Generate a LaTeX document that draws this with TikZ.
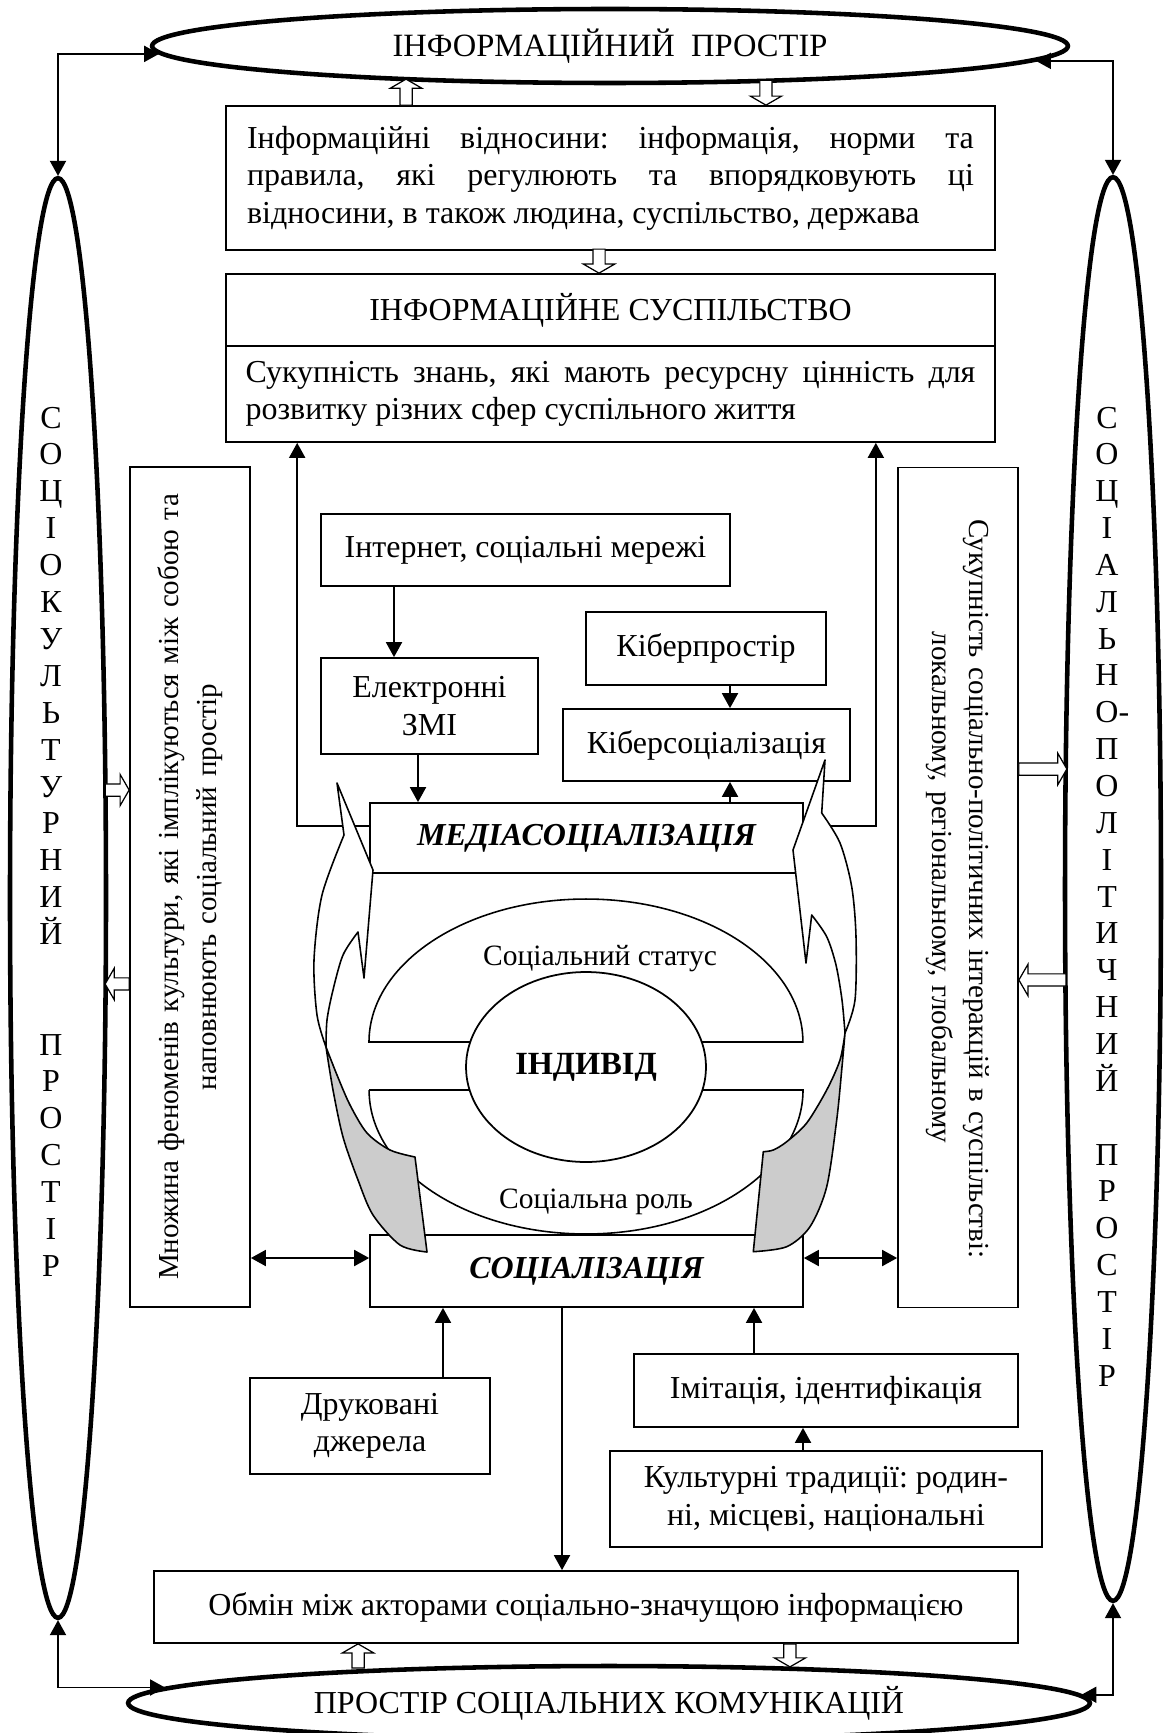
\documentclass[tikz,border=0pt]{standalone}
\usepackage{fontspec}
\setmainfont{Liberation Serif}
\usetikzlibrary{arrows.meta,shapes.geometric,shapes.arrows}
\newcommand\diagfont{\fontsize{18.2}{21.3}\selectfont\frenchspacing}

\begin{document}
\begin{tikzpicture}[
    x=0.02cm, y=-0.02cm,
    >/.tip={Triangle[length=0.3cm,width=0.32cm]},
    every node/.style={font=\diagfont},
    box/.style={draw, line width=1pt, fill=white, inner sep=0pt, align=center},
    space/.style={draw, ellipse, line width=2.6pt, inner sep=0pt},
    hollow/.style={draw, single arrow, fill=white, line width=0.7pt, inner xsep=0pt, inner ysep=0.11cm,
      outer sep=0pt, single arrow head extend=0.19cm, single arrow tip angle=120},
    link/.style={line width=1.1pt},
    callout/.style={draw, line width=0.9pt, fill=white, line join=round},
    letter/.style={anchor=base, inner sep=0pt}
  ]
    \useasboundingbox (0,0) rectangle (1163,1733);

    % The four spaces
    \node[space, minimum width=18.32cm, minimum height=1.48cm, font=\fontsize{18.5}{21.3}\selectfont] (infsp) at (610,46) {ІНФОРМАЦІЙНИЙ\ \ ПРОСТІР};
    \node[space, minimum width=1.92cm, minimum height=28.8cm] (socult) at (58,898) {};
    \node[space, minimum width=1.92cm, minimum height=28.48cm] (sopol) at (1113,889) {};
    \node[space, minimum width=19.24cm, minimum height=1.48cm] (comm) at (609,1703) {ПРОСТІР СОЦІАЛЬНИХ КОМУНІКАЦІЙ};

    \foreach \ch [count=\i from 0] in {С,О,Ц,І,О,К,У,Л,Ь,Т,У,Р,Н,И,Й}
      \node[letter] (lt\i) at (51,428+36.9*\i) {\ch};
    \foreach \ch [count=\i from 0] in {П,Р,О,С,Т,І,Р}
      \node[letter] (lb\i) at (51,1055+36.9*\i) {\ch};
    \foreach \ch [count=\i from 0] in {С,О,Ц,І,А,Л,Ь,Н,{О\rlap{-}},П,О,Л,І,Т,И,Ч,Н,И,Й}
      \node[letter] (rt\i) at (1107,428+36.85*\i) {\ch};
    \foreach \ch [count=\i from 0] in {П,Р,О,С,Т,І,Р}
      \node[letter] (rb\i) at (1107,1165+36.85*\i) {\ch};

    \draw[link,<->] (socult.north) |- (infsp.181.5);
    \draw[link,<->] (sopol.north) |- (infsp.358.5);
    \draw[link,<->] (socult.south) |- (comm.178.35);
    \draw[link,<->] (sopol.south) |- (comm.1.65);

    % The boxes
    \node[box, text width=14.54cm, align=justify, inner xsep=0.42cm, minimum height=2.88cm] (rel) at (610.5,178)
      {Інформаційні відносини: інформація, норми та\linebreak правила, які регулюють та впорядковують ці\linebreak відносини, в також людина, суспільство, держава};
    \node[box, minimum width=15.38cm, minimum height=1.44cm] (infsoc) at (610.5,310) {ІНФОРМАЦІЙНЕ СУСПІЛЬСТВО};
    \node[box, text width=14.6cm, align=justify, inner xsep=0.39cm, minimum height=1.92cm] (infdesc) at (610.5,394)
      {Сукупність знань, які мають ресурсну цінність для\linebreak розвитку різних сфер суспільного життя};
    \node[box, rotate=90, text width=16.4cm, inner xsep=0.2cm, minimum height=2.4cm, font=\fontsize{16.5}{21.3}\selectfont] (cult) at (190,887)
      {Множина феноменів культури, які імплікуються між собою та\\ наповнюють соціальний простір};
    \node[box, rotate=-90, text width=16.4cm, inner xsep=0.2cm, minimum height=2.4cm, font=\fontsize{16.5}{21.3}\selectfont] (polit) at (958,887.5)
      {\makebox[14.74cm][s]{Сукупність соціально-політичних інтеракцій в суспільстві:}\\ локальному, регіональному, глобальному};
    \node[box, minimum width=8.18cm, minimum height=1.44cm] (inet) at (525.5,550) {Інтернет, соціальні мережі};
    \node[box, minimum width=4.34cm, minimum height=1.92cm] (emedia) at (429.5,706) {Електронні\\ЗМІ};
    \node[box, minimum width=4.8cm, minimum height=1.46cm] (cyber) at (706,648.5) {Кіберпростір};
    \node[box, minimum width=5.74cm, minimum height=1.44cm] (cybsoc) at (706.5,745) {Кіберсоціалізація};
    \node[box, minimum width=8.66cm, minimum height=1.4cm, font=\diagfont\bfseries\itshape] (media) at (586.5,838) {МЕДІАСОЦІАЛІЗАЦІЯ};
    \node[box, minimum width=8.66cm, minimum height=1.44cm, font=\diagfont\bfseries\itshape] (soc) at (586.5,1271) {СОЦІАЛІЗАЦІЯ};
    \node[box, minimum width=4.8cm, minimum height=1.92cm] (print) at (370,1426) {Друковані\\джерела};
    \node[box, minimum width=7.68cm, minimum height=1.46cm] (imit) at (826,1390.5) {Імітація, ідентифікація};
    \node[box, minimum width=8.64cm, minimum height=1.92cm] (trad) at (826,1499) {Культурні традиції: родин-\\ні, місцеві, національні};
    \node[box, minimum width=17.28cm, minimum height=1.44cm] (exch) at (586,1607) {Обмін між акторами соціально-значущою інформацією};

    % Hollow arrows
    \node[hollow, rotate=90, anchor=tail, minimum height=0.52cm] (up1) at ([xshift=-4.09cm]rel.north) {};
    \node[hollow, rotate=-90, anchor=tip, minimum height=0.5cm] (dn1) at ([xshift=3.11cm]rel.north) {};
    \node[hollow, rotate=-90, anchor=tip, minimum height=0.48cm] (dn2) at ([xshift=-0.23cm]infsoc.north) {};
    \node[hollow, anchor=tip, minimum height=0.48cm] (rt1) at ([yshift=1.94cm]cult.north) {};
    \node[hollow, rotate=180, anchor=tail, minimum height=0.48cm] (lt1) at ([yshift=-1.94cm]cult.north) {};
    \node[hollow, anchor=tail, minimum height=0.96cm] (rt2) at ([yshift=2.37cm]polit.north) {};
    \node[hollow, rotate=180, anchor=tip, minimum height=0.94cm] (lt2) at ([yshift=-1.85cm]polit.north) {};
    \node[hollow, rotate=90, anchor=tip, minimum height=0.48cm] (up2) at ([xshift=-4.56cm]exch.south) {};
    \node[hollow, rotate=-90, anchor=tail, minimum height=0.46cm] (dn3) at ([xshift=4.08cm]exch.south) {};

    % Status and role round the individual
    \draw[line width=0.9pt] (369,1042) arc[start angle=180, end angle=0, x radius=4.34cm, y radius=2.86cm] -- cycle;
    \draw[line width=0.9pt] (369,1090) -- (803,1090) arc[start angle=0, end angle=-180, x radius=4.34cm, y radius=2.88cm] -- cycle;
    \node[draw, ellipse, fill=white, line width=1pt, minimum width=4.8cm, minimum height=3.8cm, font=\fontsize{18.4}{21.3}\selectfont\bfseries] (ind) at (586,1067) {ІНДИВІД};
    \node[font=\fontsize{16.8}{21.3}\selectfont] (status) at (600,959) {Соціальний статус};
    \node[font=\fontsize{16.8}{21.3}\selectfont] (role) at (596,1202) {Соціальна роль};

    % Connectors
    \draw[link,->] ([xshift=-0.71cm]emedia.north |- inet.south) -- ([xshift=-0.71cm]emedia.north);
    \draw[link,->] ([xshift=-0.23cm]emedia.south) -- ([xshift=-0.23cm]emedia.south |- media.north);
    \draw[link,->] ([xshift=0.48cm]cyber.south) -- ([xshift=0.48cm]cyber.south |- cybsoc.north);
    \draw[link,->] ([xshift=0.47cm]cybsoc.south |- media.north) -- ([xshift=0.47cm]cybsoc.south);
    \draw[link,->] ([yshift=0.24cm]media.west) -| ([xshift=1.44cm]infdesc.south west);
    \draw[link,->] ([yshift=0.24cm]media.east) -| ([xshift=-2.4cm]infdesc.south east);
    \draw[link,<->] ([yshift=0.26cm]soc.west) -- ([yshift=0.26cm]soc.west -| cult.south);
    \draw[link,<->] ([yshift=0.26cm]soc.east) -- ([yshift=0.26cm]soc.east -| polit.south);
    \draw[link,->] ([xshift=1.46cm]print.north) -- ([xshift=1.46cm]print.north |- soc.south);
    \draw[link,->] ([xshift=-0.49cm]soc.south) -- ([xshift=-0.49cm]soc.south |- exch.north);
    \draw[link,->] ([xshift=-1.44cm]imit.north) -- ([xshift=-1.44cm]imit.north |- soc.south);
    \draw[link,->] ([xshift=-0.46cm]trad.north) -- ([xshift=-0.46cm]trad.north |- imit.south);

    % Curved arrows from socialization up to mediasocialization
    \filldraw[callout] (344,835) -- (337,783) -- (373,870) -- (364,978) -- (358,932)
      -- plot[smooth] coordinates {(358,932) (343,955) (333,990) (327,1020) (326,1047)}
      -- plot[smooth] coordinates {(326,1047) (317,1015) (314,960) (322,895) (344,835)} -- cycle;
    \filldraw[callout, fill=black!20] (326,1047)
      -- plot[smooth] coordinates {(326,1047) (333,1090) (343,1137) (358,1180) (373,1215) (400,1245) (427,1252)}
      -- (415,1157)
      -- plot[smooth] coordinates {(415,1157) (390,1150) (367,1133) (350,1105) (337,1075) (326,1047)} -- cycle;
    \filldraw[callout] (821.7,813) -- (825,760) -- (793,850) -- (806,963) -- (811.7,915)
      -- plot[smooth] coordinates {(811.7,915) (826.7,936.7) (836,965) (842,1000) (845,1033)}
      -- plot[smooth] coordinates {(845,1033) (855,1000) (856,936.7) (851.7,886.7) (840,843) (821.7,813)} -- cycle;
    \filldraw[callout, fill=black!20] (845,1033)
      -- plot[smooth] coordinates {(845,1033) (841.7,1070) (836.7,1120) (826.7,1186.7) (810,1226.7) (786.7,1246.7) (753.3,1251.7)}
      -- (763.3,1151.7)
      -- plot[smooth] coordinates {(763.3,1151.7) (773.3,1150) (786.7,1141.7) (806.7,1123) (826.7,1090) (840,1060) (845,1033)} -- cycle;
  \end{tikzpicture}
\end{document}
